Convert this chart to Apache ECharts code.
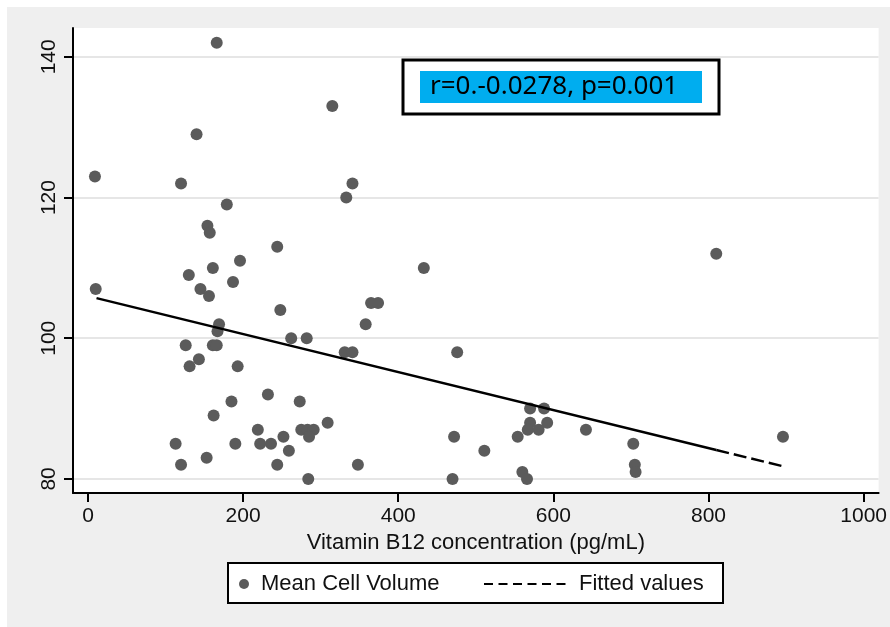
<!DOCTYPE html>
<html>
<head>
<meta charset="utf-8">
<script src="https://cdn.jsdelivr.net/npm/echarts@6/dist/echarts.min.js"></script>
<style>
html, body { margin: 0; padding: 0; background: #fff; }
#main { width: 890px; height: 627px; }
</style>
</head>
<body>
<div id="main"></div>
<script>
// Vitamin B12 (pg/mL) vs Mean Cell Volume
var b12 = [9, 10, 166, 315, 140, 120, 341, 333, 179, 154, 157, 244, 196, 433, 161, 130, 187, 145, 156, 248,
           365, 374, 358, 169, 167, 262, 282, 126, 161, 166, 331, 341, 476, 143, 131, 193, 232, 185, 273, 162,
           309, 219, 275, 283, 291, 285, 252, 113, 190, 222, 236, 259, 120, 153, 244, 284, 348, 472, 511, 470,
           570, 588, 570, 592, 567, 581, 554, 642, 560, 566, 810, 703, 705, 706, 896];
var mcv = [123, 107, 142, 133, 129, 122, 122, 120, 119, 116, 115, 113, 111, 110, 110, 109, 108, 107, 106, 104,
           105, 105, 102, 102, 101, 100, 100, 99, 99, 99, 98, 98, 98, 97, 96, 96, 92, 91, 91, 89,
           88, 87, 87, 87, 87, 86, 86, 85, 85, 85, 85, 84, 82, 83, 82, 80, 82, 86, 84, 80,
           90, 90, 88, 88, 87, 87, 86, 87, 81, 80, 112, 85, 82, 81, 86];

// fitted line (solid where Stata's segments are short, dashed at the end)
var fitSolidX = [11, 810];
var fitSolidY = [105.7, 84.1];
var fitDashX = [810, 896];
var fitDashY = [84.1, 81.8];

var xTicks = [0, 200, 400, 600, 800, 1000];
var yTicks = [80, 100, 120, 140];

function pairs(xs, ys) {
    return xs.map(function (x, i) { return [x, ys[i]]; });
}

var chart = echarts.init(document.getElementById('main'));

var option = {
    backgroundColor: '#efefef',
    animation: false,
    grid: {
        left: 73, right: 10, top: 28, bottom: 134,
        show: true, backgroundColor: '#fff', borderWidth: 0
    },
    xAxis: {
        type: 'value',
        min: -19.3, max: 1019.3,
        name: 'Vitamin B12 concentration (pg/mL)',
        nameLocation: 'middle',
        nameGap: 32,
        nameTextStyle: { fontFamily: 'Liberation Sans', fontSize: 22, color: '#111' },
        axisLine: { onZero: false, lineStyle: { color: '#000', width: 2 } },
        axisTick: { customValues: xTicks, length: 9, lineStyle: { color: '#000', width: 2 } },
        axisLabel: {
            customValues: xTicks, margin: 13, fontFamily: 'Liberation Sans', fontSize: 21, color: '#111',
            formatter: function (v) { return String(v); }
        },
        splitLine: { show: false }
    },
    yAxis: {
        type: 'value',
        min: 78, max: 144.1,
        axisLine: { show: true, onZero: false, lineStyle: { color: '#000', width: 2 } },
        axisTick: { show: true, customValues: yTicks, length: 9, lineStyle: { color: '#000', width: 2 } },
        axisLabel: { customValues: yTicks, rotate: 90, margin: 13, fontFamily: 'Liberation Sans', fontSize: 21, color: '#111' },
        splitLine: { show: true, lineStyle: { color: '#e6e6e6', width: 2 } }
    },
    legend: [
        {
            data: ['Mean Cell Volume'],
            left: 234, top: 568,
            itemWidth: 24, itemHeight: 10,
            textStyle: { fontFamily: 'Liberation Sans', fontSize: 22, color: '#111' }
        },
        {
            data: ['Fitted values'],
            left: 478, top: 568,
            itemWidth: 84, itemHeight: 10,
            itemStyle: { opacity: 0 },
            lineStyle: { type: [9, 5.5], width: 2, color: '#000' },
            textStyle: { fontFamily: 'Liberation Sans', fontSize: 22, color: '#111', padding: [0, 0, 0, 6] }
        }
    ],
    graphic: [
        { type: 'rect', shape: { x: 0, y: 0, width: 890, height: 7 }, style: { fill: '#fff' }, silent: true },
        { type: 'rect', shape: { x: 0, y: 0, width: 7, height: 627 }, style: { fill: '#fff' }, silent: true },
        { type: 'rect', z: 3, shape: { x: 228, y: 563, width: 495, height: 40 },
          style: { fill: '#fff', stroke: '#000', lineWidth: 2 }, silent: true },
        { type: 'rect', z: 50, shape: { x: 403, y: 60, width: 316, height: 54 },
          style: { fill: '#fff', stroke: '#000', lineWidth: 3 }, silent: true },
        { type: 'rect', z: 51, shape: { x: 420, y: 71, width: 282, height: 32 },
          style: { fill: '#00adef' }, silent: true },
        { type: 'text', z: 52, x: 430, y: 87,
          style: { text: 'r=0.-0.0278, p=0.001', fill: '#000', font: '26px "Noto Sans"', textVerticalAlign: 'middle' },
          silent: true }
    ],
    series: [
        {
            name: 'Mean Cell Volume',
            type: 'scatter',
            data: pairs(b12, mcv),
            symbolSize: 12,
            itemStyle: { color: '#5b5b5b', opacity: 1 },
            z: 3
        },
        {
            name: 'fit',
            type: 'line',
            data: pairs(fitSolidX, fitSolidY),
            symbol: 'none',
            lineStyle: { color: '#000', width: 2.5 },
            z: 4
        },
        {
            name: 'Fitted values',
            type: 'line',
            data: pairs(fitDashX, fitDashY),
            symbol: 'none',
            itemStyle: { color: '#000' },
            lineStyle: { color: '#000', width: 2.5, type: [13, 5] },
            z: 4
        }
    ]
};

chart.setOption(option);
</script>
</body>
</html>
